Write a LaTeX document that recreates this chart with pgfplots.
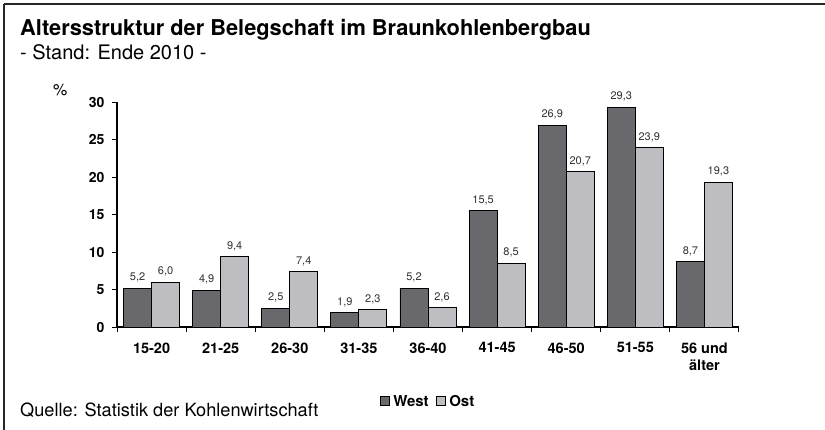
\documentclass[border=0pt]{standalone}
\usepackage{pgfplots}
\pgfplotsset{compat=1.18}
\usepackage{fontspec}
\setmainfont{TeX Gyre Heros}
\definecolor{west}{HTML}{69696D}
\definecolor{ost}{HTML}{BEBEC2}
\begin{document}
\begin{tikzpicture}[x=1pt,y=1pt]
\path[use as bounding box] (0,0) rectangle (825,-429);
\draw[line width=1.6pt, black!85] (4,-4) -- (826,-4);
\draw[line width=1.6pt, black!85] (4,-4) -- (4,-430);
\node[anchor=base west, inner sep=0, font=\bfseries\fontsize{21.8}{24}\selectfont] at (20,-35) {Altersstruktur der Belegschaft im Braunkohlenbergbau};
\node[anchor=base west, inner sep=0, font=\fontsize{20}{22}\selectfont] at (20,-59) {- Stand: Ende 2010 -};
\node[anchor=base west, inner sep=0, font=\fontsize{16}{18}\selectfont] at (53,-95) {\%};
\node[anchor=base west, inner sep=0, font=\fontsize{18.2}{20}\selectfont] at (20,-416) {Quelle: Statistik der Kohlenwirtschaft};
\begin{axis}[
  at={(117pt,-327pt)}, anchor=south west,
  scale only axis, width=622pt, height=225pt,
  ybar=0pt, bar width=28pt,
  xmin=-0.5, xmax=8.5, ymin=0, ymax=30,
  axis x line*=bottom, axis y line*=left,
  axis line style={line width=1.1pt, -},
  ytick={0,5,...,30},
  xtick={-0.5,0.5,...,8.5},
  x tick label as interval,
  xticklabels={15-20,21-25,26-30,31-35,36-40,41-45,46-50,51-55,{56 und\\älter}},
  xticklabel style={align=center, font=\bfseries\fontsize{14.5}{17}\selectfont, yshift=-7pt},
  yticklabel style={font=\bfseries\fontsize{14}{16}\selectfont, xshift=-4pt},
  tick align=outside, major tick length=5pt,
  tick style={black, line width=1pt},
  /pgf/number format/assume math mode=true,
  nodes near coords,
  nodes near coords style={font=\fontsize{11}{13}\selectfont, text=black!80, yshift=2pt,
    /pgf/number format/.cd, fixed, fixed zerofill, precision=1, use comma, assume math mode=true},
  legend columns=2,
  legend style={at={(0.5,-0.333)}, anchor=center, draw=none, fill=none,
    font=\bfseries\fontsize{15}{17}\selectfont,
    /tikz/every odd column/.append style={column sep=2pt},
    /tikz/every even column/.append style={column sep=5pt}},
  every axis plot post/.append style={legend image code/.code={\draw[##1, line width=0.6pt] (0pt,-3.5pt) rectangle (9pt,5.5pt);}},
]
\addplot[fill=west, draw=black, line width=0.8pt] coordinates {(0,5.2) (1,4.9) (2,2.5) (3,1.9) (4,5.2) (5,15.5) (6,26.9) (7,29.3) (8,8.7)};
\addplot[fill=ost, draw=black, line width=0.8pt] coordinates {(0,6.0) (1,9.4) (2,7.4) (3,2.3) (4,2.6) (5,8.5) (6,20.7) (7,23.9) (8,19.3)};
\legend{West,Ost}
\end{axis}
\end{tikzpicture}
\end{document}
